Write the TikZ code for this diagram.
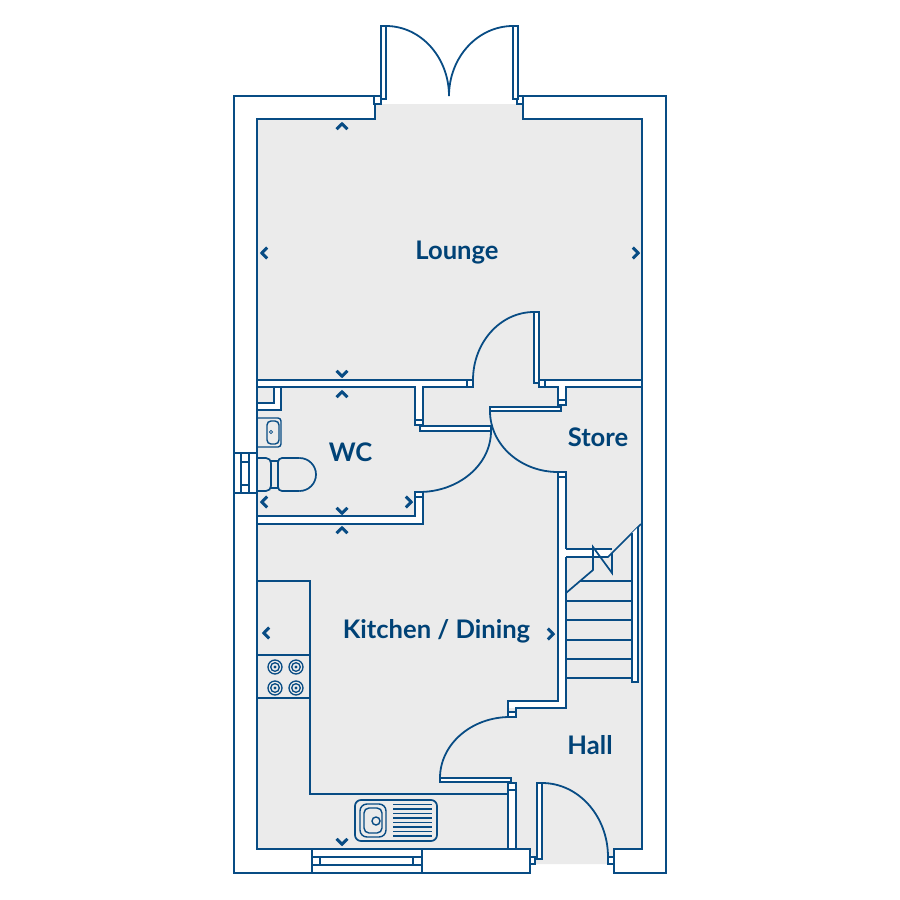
\documentclass[tikz,border=0pt]{standalone}
\usepackage{fontspec}
\setmainfont{Lato}[BoldFont=* Bold]
\usetikzlibrary{calc}
\definecolor{plan}{RGB}{8,76,132}
\definecolor{labelc}{RGB}{0,66,118}
\definecolor{floorc}{RGB}{235,235,235}
\tikzset{
  ln/.style={draw=plan,line width=1.7pt,line join=miter},
  thin ln/.style={draw=plan,line width=1.4pt},
  wallw/.style={fill=white,draw=none},
  box/.style={fill=white,draw=plan,line width=1.6pt},
  chevron/.style={draw=plan,line width=2.9pt,line cap=butt,line join=miter},
  roomlabel/.style={text=labelc,font=\fontsize{25.6}{28}\selectfont\bfseries,inner sep=0pt}
}
\newcommand{\chevU}[2]{\draw[chevron] (#1-5.5,#2+3.2) -- (#1,#2-2.2) -- (#1+5.5,#2+3.2);}
\newcommand{\chevD}[2]{\draw[chevron] (#1-5.5,#2-3.2) -- (#1,#2+2.2) -- (#1+5.5,#2-3.2);}
\newcommand{\chevL}[2]{\draw[chevron] (#1+3.2,#2-5.5) -- (#1-2.2,#2) -- (#1+3.2,#2+5.5);}
\newcommand{\chevR}[2]{\draw[chevron] (#1-3.2,#2-5.5) -- (#1+2.2,#2) -- (#1-3.2,#2+5.5);}
% quarter curve: start, corner, end
\newcommand{\qarc}[3]{\draw[ln,line width=1.8pt] #1 .. controls ($#1!.5523!#2$) and ($#3!.5523!#2$) .. #3;}
\begin{document}
\begin{tikzpicture}[x=1pt,y=-1pt]
\useasboundingbox (0,0) rectangle (900,900);
% floor
\fill[floorc] (257,119) -- (375,119) -- (375,104) -- (523,104) -- (523,119) -- (642,119) -- (642,849) -- (614,849) -- (614,864) -- (535,864) -- (530,849) -- (257,849) -- cycle;
% internal wall whites
\fill[wallw] (257,380) rectangle (467,387);
\fill[wallw] (545,380) rectangle (642,387);
\fill[wallw] (415,387) rectangle (423,420);
\fill[wallw] (558,387) rectangle (566,400);
\fill[wallw] (558,477) rectangle (566,708);
\fill[wallw] (508,701) rectangle (566,708);
\fill[wallw] (415,497) rectangle (423,524);
\fill[wallw] (257,516) rectangle (423,524);
\fill[wallw] (508,790) rectangle (516,849);
\fill[wallw] (566,549) rectangle (610,557);
\fill[wallw] (274,387) rectangle (281,410);
\fill[wallw] (257,403) rectangle (281,410);
% outer walls
\draw[ln,fill=white] (375,96) -- (234,96) -- (234,873) -- (530,873) -- (530,849) -- (257,849) -- (257,119) -- (375,119) -- cycle;
\draw[ln,fill=white] (523,96) -- (666,96) -- (666,873) -- (614,873) -- (614,849) -- (642,849) -- (642,119) -- (523,119) -- cycle;
% top double door
\draw[box] (374,96) rectangle (381,104);
\draw[box] (517,96) rectangle (523,104);
\draw[box] (381,26) rectangle (386,99);
\draw[box] (513,26) rectangle (518,99);
\qarc{(386,26)}{(449,26)}{(449,96)}
\qarc{(513,26)}{(449,26)}{(449,96)}
% lounge wall to WC
\draw[ln] (257,380) -- (467,380);
\draw[ln] (257,387) -- (415,387) -- (415,425);
\draw[ln] (423,425) -- (423,387) -- (467,387);
\draw[ln] (545,380) -- (642,380);
\draw[ln] (545,387) -- (558,387) -- (558,405);
\draw[ln] (566,405) -- (566,387) -- (642,387);
\draw[box] (467,380) rectangle (473,387);
\draw[box] (539,380) rectangle (545,387);
% lounge door
\draw[box] (534,312) rectangle (539,383);
\qarc{(534,312)}{(473,312)}{(473,380)}
% WC door
\draw[box] (415,420) rectangle (423,425);
\draw[box] (420,426) rectangle (491,431);
\qarc{(491,431)}{(491,492)}{(419,492)}
\draw[box] (415,492) rectangle (423,497);
\draw[ln] (423,497) -- (423,524) -- (257,524);
\draw[ln] (415,497) -- (415,516) -- (257,516);
% store door
\draw[box] (558,400) rectangle (566,405);
\draw[box] (490,407) rectangle (561,411);
\qarc{(490,411)}{(490,472)}{(558,472)}
\draw[box] (558,472) rectangle (566,477);
% hall wall
\draw[ln] (558,477) -- (558,701) -- (508,701) -- (508,712);
\draw[ln] (566,477) -- (566,549);
\draw[ln] (566,557) -- (566,708) -- (516,708) -- (516,712);
\draw[box] (508,712) rectangle (516,717);
% kitchen door
\qarc{(510,717)}{(440,717)}{(440,778)}
\draw[box] (440,778) rectangle (511,782);
\draw[box] (508,783) rectangle (516,790);
\draw[ln] (508,790) -- (508,849);
\draw[ln] (516,790) -- (516,849);
% entrance door
\draw[box] (530,857) rectangle (535,864);
\draw[box] (608,857) rectangle (614,864);
\draw[box] (537,783) rectangle (542,859);
\qarc{(542,783)}{(608,783)}{(608,857)}
% stairs
\draw[ln] (566,549) -- (612,549);
\draw[ln] (566,557) -- (608,557) -- (641,524);
\draw[ln] (566,593) -- (593,570) -- (593,547) -- (612,573) -- (612,553);
\foreach \t/\s in {581/580,601/566,620/566,640/566,659/566,678/566}{\draw[ln] (\s,\t) -- (632,\t);}
\draw[ln,fill=white] (632,533) -- (632,682) -- (638,682) -- (638,527);
% WC fittings
\draw[ln] (257,403) -- (274,403) -- (274,387);
\draw[ln] (281,387) -- (281,410) -- (257,410);
\draw[thin ln,rounded corners=3pt] (257,418) -- (281,418) -- (281,447) -- (257,447);
\draw[thin ln,rounded corners=4pt] (267,421) rectangle (279,444);
\draw[draw=plan,line width=.8pt] (271,432) circle[radius=1.6];
\draw[ln,rounded corners=5pt] (257,458) -- (271,458) -- (271,491) -- (257,491);
\draw[ln] (271,461) -- (278,461) (271,488) -- (278,488);
\draw[ln,rounded corners=4pt] (299.5,458) -- (278,458) -- (278,491) -- (299.5,491);
\draw[ln] (299.5,458) arc[start angle=-90,end angle=90,radius=16.5];
% WC window
\draw[ln,fill=white] (234,453) rectangle (257,493);
\draw[ln] (241,453) -- (241,493) (249,453) -- (249,493);
\draw[ln] (241,462) -- (249,462) (241,485) -- (249,485);
% kitchen units
\draw[ln] (257,581) -- (310,581) -- (310,794) -- (508,794);
\draw[ln] (257,655) -- (310,655);
\draw[ln] (257,698) -- (310,698);
\foreach \cx in {275,296}{\foreach \cy in {667,688}{
  \draw[thin ln,line width=1.3pt] (\cx,\cy) circle[radius=7] (\cx,\cy) circle[radius=4.3];
  \fill[plan] (\cx,\cy) circle[radius=1.6];
}}
% sink
\draw[ln,rounded corners=6pt] (355,800) rectangle (437,841);
\draw[thin ln,rounded corners=7pt] (360,804) rectangle (386,837);
\draw[thin ln,rounded corners=5pt] (364,808) rectangle (382,833);
\draw[thin ln] (376,821) circle[radius=4];
\foreach \i in {0,...,7}{\draw[thin ln] (393,804.5+4.5*\i) -- (432,804.5+4.5*\i);}
% bottom window
\draw[ln,fill=white] (312,849) rectangle (422,873);
\draw[ln,fill=white] (312,857) rectangle (422,865);
\draw[ln] (320,857) -- (320,865) (413,857) -- (413,865);
% chevrons
\chevU{342}{126}
\chevD{342}{374}
\chevU{342}{394}
\chevD{342}{511}
\chevU{342}{530}
\chevL{264}{253}
\chevR{636}{253}
\chevL{264}{502}
\chevR{409}{502}
\chevL{266}{633}
\chevR{551}{634}
\chevD{342}{842}
% labels
\node[roomlabel] (lounge) at (457,252.5) {Lounge};
\node[roomlabel] (wc) at (350.5,452.5) {WC};
\node[roomlabel] (store) at (598,437) {Store};
\node[roomlabel] (kitchen) at (436.5,631.5) {Kitchen / Dining};
\node[roomlabel] (hall) at (590,745) {Hall};
\end{tikzpicture}
\end{document}
